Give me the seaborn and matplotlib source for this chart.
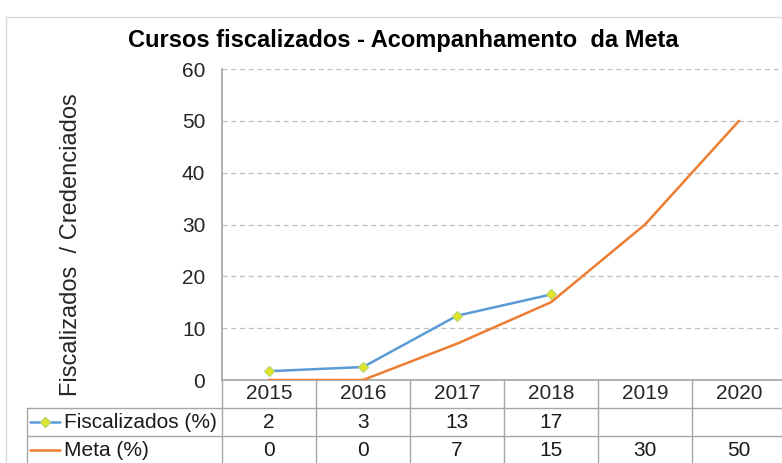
import numpy as np
import pandas as pd
import matplotlib
matplotlib.use("Agg")
import matplotlib.pyplot as plt
import matplotlib.transforms as mtransforms
from matplotlib.lines import Line2D
from matplotlib.patches import Rectangle
import seaborn as sns

# data
years = ["2015", "2016", "2017", "2018", "2019", "2020"]
fiscalizados = [1.7, 2.5, 12.4, 16.5, np.nan, np.nan]
meta = [0, 0, 7, 15, 30, 50]
fiscal_labels = ["2", "3", "13", "17", "", ""]
meta_labels = ["0", "0", "7", "15", "30", "50"]

BLUE = "#5B9BD5"
ORANGE = "#ED7D31"
GRID = "#BFBFBF"
LINE = "#A6A6A6"

sns.set_theme(style="white")
plt.rcParams['font.family'] = ['Liberation Sans', 'DejaVu Sans']

df = pd.DataFrame({"x": np.arange(len(years)), "Fiscalizados (%)": fiscalizados, "Meta (%)": meta})

W, H = 782, 463
fig = plt.figure(figsize=(W / 100, H / 100), dpi=100)
# axes in pixel terms: left 222, right 786, top 69, bottom 380
ax = fig.add_axes([222 / W, (H - 380) / H, (786 - 222) / W, (380 - 69) / H])

sns.lineplot(data=df, x="x", y="Fiscalizados (%)", ax=ax, color=BLUE, lw=1.8,
             marker="D", markersize=5, markerfacecolor="#E2E42A", markeredgecolor="#B5D56A",
             markeredgewidth=0.8, zorder=4)
sns.lineplot(data=df, x="x", y="Meta (%)", ax=ax, color=ORANGE, lw=1.8, zorder=3)

ax.set_xlim(-0.5, len(years) - 0.5)
ax.set_ylim(0, 60)
ax.set_yticks(range(0, 61, 10))
ax.yaxis.grid(True, ls=(0, (4, 3)), color=GRID, lw=0.9)
ax.xaxis.grid(False)
for s in ["top", "right"]:
    ax.spines[s].set_visible(False)
ax.spines["left"].set_color(LINE)
ax.spines["bottom"].set_color(LINE)
ax.tick_params(axis="y", length=0, pad=12, labelsize=15)
ax.set_xticks(range(len(years)))
ax.set_xticklabels(years, fontsize=15)
ax.tick_params(axis="x", length=0, pad=3)
ax.set_xlabel("")
ax.set_ylabel("Fiscalizados  / Credenciados", fontsize=17)
ax.yaxis.set_label_coords(-0.248, 0.436)

# data table under the axis
trans = mtransforms.blended_transform_factory(ax.transData, ax.transAxes)
axh = 311.0
r1 = -28 / axh
r2 = -56 / axh
r3 = -90 / axh
for i in range(len(years) + 1):
    ax.add_line(Line2D([i - 0.5, i - 0.5], [0, r3], transform=trans, color=LINE, lw=1, clip_on=False))
left_edge = (27 - 222) / 564.0
for yy in (r1, r2):
    ax.add_line(Line2D([left_edge, 1.0], [yy, yy], transform=ax.transAxes, color=LINE, lw=1, clip_on=False))
ax.add_line(Line2D([left_edge, left_edge], [r1, r3], transform=ax.transAxes, color=LINE, lw=1, clip_on=False))

c1 = -42 / axh
c2 = -70 / axh
for i in range(len(years)):
    ax.text(i, c1, fiscal_labels[i], transform=trans, ha="center", va="center", fontsize=15, color="#1a1a1a")
    ax.text(i, c2, meta_labels[i], transform=trans, ha="center", va="center", fontsize=15, color="#1a1a1a")

kx0 = (30 - 222) / 564.0
kx1 = (60 - 222) / 564.0
ax.add_line(Line2D([kx0, kx1], [c1, c1], transform=ax.transAxes, color=BLUE, lw=1.8, clip_on=False))
ax.add_line(Line2D([(kx0 + kx1) / 2], [c1], transform=ax.transAxes, marker="D", markersize=5,
                   markerfacecolor="#E2E42A", markeredgecolor="#B5D56A", clip_on=False))
ax.add_line(Line2D([kx0, kx1], [c2, c2], transform=ax.transAxes, color=ORANGE, lw=1.8, clip_on=False))
tx = (64 - 222) / 564.0
ax.text(tx, c1, "Fiscalizados (%)", transform=ax.transAxes, ha="left", va="center", fontsize=15, color="#1a1a1a")
ax.text(tx, c2, "Meta (%)", transform=ax.transAxes, ha="left", va="center", fontsize=15, color="#1a1a1a")

# chart frame and title
fig.patches.append(Rectangle((6 / W, -0.1), 1.2, 1 - 17 / H + 0.1, transform=fig.transFigure,
                             fill=False, edgecolor="#D9D9D9", lw=1))
fig.text(403 / W, 1 - 41 / H, "Cursos fiscalizados - Acompanhamento  da Meta",
         ha="center", va="center", fontsize=17, fontweight="bold", color="black")

fig.savefig("out.png", dpi=100)
